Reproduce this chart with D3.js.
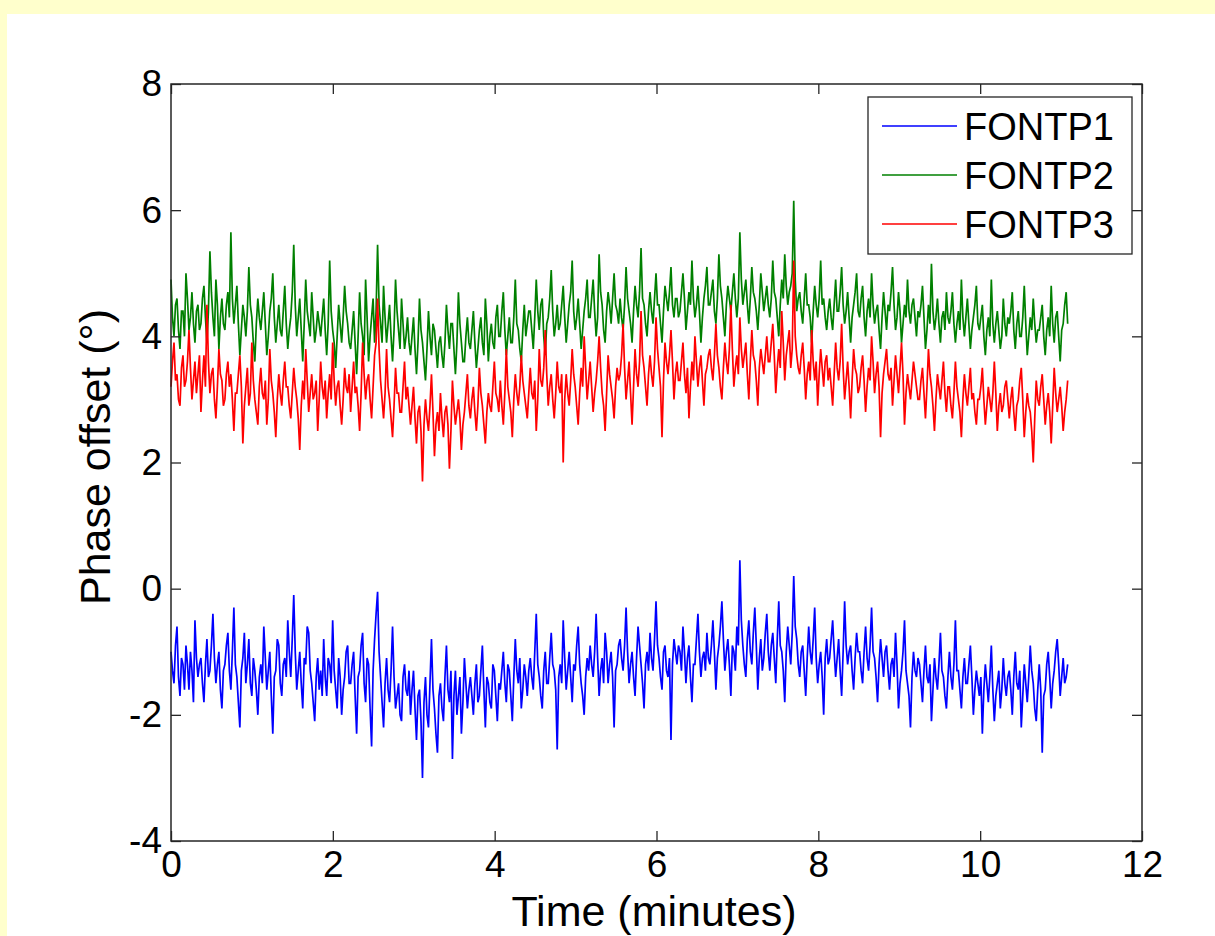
<!DOCTYPE html>
<html>
    <head>
        <meta charset="utf-8">
        <title></title>
        <script src="https://d3js.org/d3.v7.min.js"></script>
        <style>
            body { margin: 0; background-color: #ffffcc; }
            svg { display: block; }
            text { font-family: "Liberation Sans", Arial, sans-serif; fill: #000; }
        </style>
    </head>
    <body>
        <svg width="1215" height="936"></svg>
        <script>
            // phase offset data (degrees), one sample every sampleStep minutes
            var sampleStep = 0.0185;
            var fontp1 = [
                -1.0,-1.3,-1.5,-0.9,-0.6,-1.4,-1.7,-1.1,-1.2,-1.6,-0.9,-1.2,-1.6,-1.0,-1.3,-1.8,-0.5,-1.1,-1.4,-1.2,
                -1.1,-1.5,-1.8,-1.2,-0.8,-1.4,-1.3,-0.9,-0.4,-1.1,-1.5,-1.2,-1.0,-1.6,-1.9,-1.3,-1.2,-0.9,-0.7,-1.3,
                -1.6,-1.0,-0.3,-1.2,-1.4,-1.8,-2.2,-1.3,-1.1,-0.7,-1.5,-1.2,-0.8,-1.5,-1.7,-1.1,-1.3,-1.6,-2.0,-1.4,
                -1.2,-1.5,-0.6,-1.1,-1.6,-1.3,-1.0,-1.7,-2.3,-1.4,-1.3,-0.8,-0.9,-1.5,-1.7,-1.2,-1.1,-1.4,-0.5,-1.0,
                -1.4,-0.8,-0.1,-1.0,-1.6,-1.3,-1.0,-1.5,-1.9,-1.1,-1.2,-0.6,-0.7,-1.3,-1.5,-1.8,-2.1,-1.4,-1.1,-1.6,
                -1.3,-1.7,-0.8,-1.4,-1.7,-1.1,-1.2,-1.5,-0.5,-1.3,-1.6,-1.9,-1.1,-1.4,-2.0,-1.6,-1.4,-1.0,-0.9,-1.5,
                -1.5,-1.2,-1.0,-1.7,-2.3,-1.4,-1.3,-0.9,-0.7,-1.5,-1.8,-1.1,-1.2,-1.9,-2.5,-1.3,-0.8,-0.4,-0.05,-1.0,
                -1.4,-1.8,-2.2,-1.5,-1.1,-1.6,-1.8,-1.3,-0.6,-1.4,-1.9,-1.7,-1.5,-2.0,-2.1,-1.4,-1.2,-1.6,-1.7,-1.3,
                -2.0,-1.6,-1.3,-1.9,-2.4,-1.7,-1.6,-2.1,-3.0,-1.8,-1.4,-2.0,-2.2,-1.5,-0.8,-1.6,-1.9,-2.3,-2.6,-1.7,
                -1.5,-1.9,-2.1,-1.4,-0.9,-1.6,-1.8,-1.3,-2.7,-1.7,-1.3,-2.0,-1.7,-1.4,-2.3,-1.8,-1.1,-1.5,-1.9,-1.6,
                -1.4,-1.7,-2.0,-1.5,-1.2,-1.8,-1.7,-1.3,-0.9,-1.6,-2.2,-1.4,-1.5,-1.8,-1.9,-1.2,-1.3,-1.7,-2.1,-1.5,
                -1.6,-1.3,-1.0,-1.5,-1.8,-1.2,-1.3,-1.7,-2.1,-1.4,-0.8,-1.3,-1.5,-1.1,-1.9,-1.6,-1.2,-1.4,-1.7,-1.3,
                -1.1,-1.4,-1.6,-1.0,-0.4,-1.2,-1.4,-1.7,-1.9,-1.3,-1.0,-1.5,-1.5,-1.1,-0.7,-1.2,-1.3,-1.6,-2.55,-1.4,
                -1.2,-1.5,-0.5,-1.1,-1.6,-1.3,-1.0,-1.4,-1.8,-1.2,-1.3,-0.9,-0.6,-1.2,-1.5,-1.7,-2.0,-1.4,-1.1,-1.3,
                -0.9,-1.2,-1.4,-1.0,-0.4,-1.1,-1.7,-1.3,-1.1,-1.5,-0.7,-1.0,-1.5,-1.2,-1.0,-1.4,-2.2,-1.3,-1.2,-0.9,
                -0.8,-1.1,-1.3,-0.9,-0.3,-1.0,-1.5,-1.2,-1.0,-1.4,-1.7,-1.1,-0.6,-0.9,-1.2,-1.5,-1.9,-1.2,-1.0,-1.3,
                -0.7,-1.1,-1.3,-0.8,-0.2,-0.9,-1.1,-1.4,-1.6,-1.0,-0.9,-1.3,-1.4,-1.1,-2.4,-1.2,-0.8,-1.0,-1.2,-0.9,
                -1.0,-1.3,-0.6,-1.0,-1.5,-1.1,-0.9,-1.4,-1.8,-1.2,-1.2,-0.8,-0.4,-1.0,-1.4,-1.1,-1.0,-1.3,-0.7,-1.1,
                -1.2,-0.9,-0.5,-1.0,-1.6,-1.1,-0.9,-0.6,-0.2,-0.8,-1.3,-1.0,-0.8,-1.2,-1.7,-0.9,-1.0,-1.3,-0.6,-0.9,
                0.45,-0.5,-0.9,-1.2,-1.4,-0.8,-0.5,-1.0,-1.2,-0.7,-0.3,-0.9,-1.6,-1.1,-0.8,-1.3,-1.1,-0.7,-0.4,-1.0,
                -1.3,-0.9,-0.7,-1.1,-1.5,-0.8,-0.2,-0.9,-1.0,-1.3,-1.8,-1.0,-0.6,-0.9,-1.2,-0.7,0.2,-0.6,-0.8,-1.2,
                -1.4,-1.0,-0.9,-1.3,-1.7,-1.1,-0.6,-1.0,-1.2,-0.8,-0.3,-1.1,-1.5,-1.2,-1.0,-1.4,-2.0,-1.1,-0.8,-1.2,
                -1.1,-0.8,-0.5,-1.0,-1.4,-1.1,-0.8,-1.3,-1.7,-1.0,-0.2,-0.9,-1.2,-1.0,-0.9,-1.3,-1.6,-1.1,-0.7,-1.0,
                -1.0,-1.3,-1.5,-1.0,-0.6,-1.1,-1.3,-0.9,-0.3,-1.0,-1.1,-1.4,-1.8,-1.2,-0.8,-1.1,-1.4,-1.0,-0.9,-1.3,
                -1.6,-1.2,-1.1,-1.4,-0.7,-1.2,-1.9,-1.5,-1.3,-1.0,-0.5,-1.3,-1.5,-1.7,-2.2,-1.4,-1.0,-1.3,-1.4,-1.1,
                -1.2,-1.5,-1.8,-1.3,-0.9,-1.4,-1.5,-1.2,-2.1,-1.6,-1.1,-1.4,-1.6,-1.2,-0.7,-1.3,-1.4,-1.7,-1.9,-1.4,
                -1.0,-1.4,-1.6,-1.2,-0.5,-1.3,-1.3,-1.6,-1.9,-1.4,-1.1,-1.5,-1.5,-1.2,-0.9,-1.4,-2.0,-1.6,-1.3,-1.5,
                -1.7,-1.4,-2.3,-1.6,-1.2,-1.5,-1.8,-1.4,-0.9,-1.6,-2.1,-1.7,-1.5,-1.3,-1.9,-1.6,-1.1,-1.5,-1.7,-1.4,
                -1.3,-1.6,-2.0,-1.4,-1.0,-1.5,-1.6,-1.3,-2.2,-1.7,-1.2,-1.5,-1.8,-1.4,-0.9,-1.3,-1.5,-1.9,-2.1,-1.6,
                -1.2,-1.6,-2.6,-1.7,-1.6,-1.2,-1.0,-1.4,-1.9,-1.5,-1.3,-1.0,-0.8,-1.2,-1.7,-1.4,-1.1,-1.5,-1.4,-1.2
            ];
            var fontp2 = [
                4.9,4.3,4.0,4.5,4.6,4.1,3.8,4.4,4.4,4.0,5.0,4.6,4.1,4.3,4.7,4.2,3.9,4.4,4.5,4.1,
                4.2,4.6,4.8,4.3,3.9,4.4,5.35,4.7,4.3,4.0,4.9,4.5,3.8,4.3,4.6,4.2,4.1,4.5,4.7,4.3,
                5.65,4.6,4.2,4.5,4.8,4.2,3.7,4.1,4.5,4.3,4.0,4.4,5.1,4.5,4.3,3.9,3.6,4.2,4.6,4.3,
                4.1,4.4,4.7,4.2,3.7,4.0,4.4,4.6,5.0,4.3,3.9,4.2,4.5,4.1,4.0,4.4,4.8,4.2,3.8,4.1,
                4.3,4.7,5.45,4.5,4.0,4.3,4.6,4.1,3.6,4.2,4.9,4.4,4.2,4.0,4.7,4.3,3.9,4.1,4.4,4.2,
                4.0,4.3,4.6,4.1,3.7,4.2,5.2,4.4,4.1,3.9,3.5,4.0,4.5,4.2,3.9,4.3,4.8,4.4,4.2,3.9,
                3.8,4.1,4.4,3.9,3.4,4.0,4.7,4.2,4.0,3.7,4.9,4.3,3.6,4.0,4.3,4.6,3.9,4.4,5.45,4.5,
                4.2,3.9,4.8,4.3,3.9,4.2,4.5,4.0,3.6,4.1,4.9,4.4,4.1,3.8,4.6,4.2,3.8,4.0,4.3,3.9,
                3.7,4.0,4.3,3.8,3.4,3.9,4.6,4.1,3.9,3.6,3.3,3.8,4.4,4.0,3.7,4.2,4.1,3.8,3.5,3.9,
                4.0,3.7,3.5,3.9,4.5,4.1,3.8,4.2,4.2,3.8,3.4,3.9,4.7,4.2,3.9,3.6,3.6,4.0,4.3,3.9,
                3.8,4.1,4.4,3.9,3.5,3.8,4.1,4.3,3.9,3.7,4.6,4.2,3.6,4.0,4.2,3.9,3.8,4.3,4.5,4.0,
                4.0,4.4,4.7,4.1,3.7,4.0,4.3,3.9,3.9,4.3,4.9,4.2,4.1,3.8,3.6,4.1,4.5,4.0,4.2,4.4,
                4.4,4.1,3.8,4.3,4.9,4.4,4.1,4.5,4.6,4.0,3.7,4.2,4.3,4.6,5.05,4.4,4.0,4.2,4.5,4.1,
                4.2,4.5,4.8,4.3,3.9,4.2,4.5,4.7,5.2,4.4,4.1,4.3,4.6,4.2,3.8,4.1,4.4,4.6,4.9,4.3,
                4.3,4.6,4.9,4.4,4.0,4.3,5.3,4.7,4.5,4.1,3.9,4.4,4.7,4.5,4.2,4.6,5.0,4.5,4.4,4.2,
                4.6,4.3,4.1,4.5,5.1,4.6,4.4,4.2,3.9,4.4,4.8,4.5,4.3,4.7,5.4,4.6,4.5,4.2,4.0,4.4,
                4.7,4.4,4.2,4.6,5.0,4.5,4.5,4.2,3.9,4.4,4.8,4.6,4.4,4.7,5.1,4.5,4.3,4.6,4.6,4.3,
                4.4,4.7,5.0,4.6,4.1,4.4,4.7,4.5,5.2,4.6,4.3,4.5,4.8,4.4,3.9,4.3,4.6,4.8,5.1,4.5,
                4.5,4.7,4.9,4.4,4.2,4.6,5.3,4.8,4.6,4.3,4.0,4.5,4.8,4.6,4.4,4.7,5.0,4.6,4.3,4.6,
                5.65,4.9,4.5,4.7,4.9,4.5,4.2,4.6,5.1,4.7,4.6,4.4,4.1,4.5,5.0,4.7,4.4,4.6,4.8,4.5,
                4.3,4.6,5.2,4.7,4.6,4.3,4.0,4.5,4.9,4.6,5.3,4.8,4.5,4.7,4.8,5.0,6.15,4.9,4.4,4.6,
                4.7,4.4,4.2,4.6,5.0,4.5,4.5,4.3,3.9,4.4,4.8,4.5,4.3,4.6,5.2,4.5,4.6,4.3,4.1,4.4,
                4.6,4.3,4.1,4.5,4.9,4.4,4.4,4.7,5.1,4.5,4.2,4.4,4.7,4.3,3.9,4.3,4.5,4.7,5.0,4.4,
                4.3,4.6,4.8,4.3,4.0,4.4,4.6,4.3,5.0,4.5,4.2,4.4,4.5,4.1,3.8,4.3,4.7,4.4,4.1,4.5,
                4.4,4.7,5.1,4.5,4.1,4.3,4.7,4.4,3.9,4.2,4.5,4.3,4.9,4.4,4.2,4.5,4.6,4.3,4.0,4.4,
                4.3,4.5,4.8,4.3,3.8,4.1,4.5,4.2,5.15,4.4,4.1,4.3,4.6,4.2,3.9,4.3,4.4,4.1,4.7,4.3,
                4.2,4.4,4.7,4.2,3.9,4.2,4.4,4.1,4.9,4.3,4.0,4.3,4.6,4.2,3.8,4.1,4.3,4.5,4.8,4.2,
                4.1,4.3,4.5,4.0,3.7,4.1,4.3,4.0,4.9,4.2,3.9,4.2,4.4,4.1,3.8,4.0,4.6,4.2,4.0,4.3,
                4.2,4.4,4.7,4.1,3.8,4.2,4.4,4.0,4.0,4.3,4.8,4.2,3.7,4.0,4.3,4.1,4.6,4.2,3.9,4.1,
                4.1,4.3,4.5,4.0,3.7,4.1,4.3,4.0,4.8,4.2,3.9,4.3,4.4,4.0,3.6,4.1,4.2,4.5,4.7,4.2
            ];
            var fontp3 = [
                3.2,3.6,3.9,3.3,3.4,3.0,2.9,3.5,3.7,3.2,3.3,3.6,4.1,3.5,3.0,3.3,3.6,3.1,3.4,3.7,
                2.8,3.3,3.7,3.2,4.5,3.6,3.1,3.4,3.5,3.0,2.7,3.2,3.8,3.4,3.3,2.9,3.0,3.4,3.6,3.2,
                3.4,3.0,2.5,3.1,3.1,3.4,3.7,3.2,2.3,2.9,3.2,3.5,2.9,3.1,3.9,3.3,3.0,2.8,2.6,3.2,
                3.5,3.1,3.0,3.3,2.6,3.0,3.8,3.3,3.1,2.8,2.4,3.0,3.4,3.1,2.9,3.3,3.6,3.2,3.2,2.9,
                2.7,3.1,3.5,3.2,3.0,2.7,2.2,2.9,3.3,3.0,3.8,3.3,2.8,3.1,3.4,3.0,3.1,3.3,2.5,3.0,
                3.6,3.2,3.0,3.3,2.7,3.1,3.4,3.0,3.9,3.3,2.9,3.2,3.3,2.9,2.6,3.0,3.5,3.2,3.1,3.4,
                2.8,3.2,3.6,3.1,3.2,2.9,2.5,3.1,3.9,3.4,3.0,3.3,3.4,3.0,2.7,3.2,3.7,3.9,4.6,3.8,
                3.3,3.0,2.7,3.1,3.8,3.2,3.0,2.7,2.4,2.9,3.5,3.1,3.1,2.8,2.8,3.2,3.6,3.0,3.2,2.9,
                2.6,2.9,3.2,2.7,2.3,2.8,2.9,2.5,1.7,2.6,3.0,2.7,2.5,2.9,3.4,2.8,2.1,2.6,2.8,2.5,
                3.1,2.7,2.4,2.8,2.9,2.6,1.9,2.5,3.3,2.9,2.6,2.8,3.0,2.7,2.2,2.6,2.8,3.1,3.4,2.9,
                2.7,3.0,3.2,2.8,2.5,2.9,3.5,3.1,2.9,2.6,2.3,2.8,3.1,2.9,2.8,3.2,3.6,3.1,3.0,2.8,
                3.3,2.9,2.6,3.1,3.8,3.2,3.0,2.8,2.4,3.0,3.4,3.1,2.9,3.2,3.7,3.3,3.1,2.9,2.7,3.1,
                3.5,3.1,3.0,3.3,2.5,3.0,3.8,3.3,3.2,3.5,4.1,3.4,2.9,3.2,3.4,3.0,2.7,3.1,3.6,3.2,
                3.1,3.4,2.0,3.0,3.4,3.1,2.9,3.3,3.8,3.4,3.2,2.9,2.6,3.1,3.5,3.2,4.0,3.5,3.0,3.3,
                3.6,3.2,2.8,3.1,3.3,3.6,4.0,3.5,3.1,2.9,2.5,3.1,3.7,3.4,3.2,3.0,2.7,3.2,3.5,3.3,
                3.4,3.7,4.2,3.5,3.0,3.3,3.6,3.1,2.6,3.2,3.8,3.4,3.2,3.6,4.4,3.7,3.5,3.2,2.9,3.4,
                3.7,3.4,3.2,3.6,4.3,3.8,3.5,3.2,2.4,3.3,3.9,3.6,3.4,3.7,4.1,3.6,3.0,3.4,3.6,3.3,
                3.3,3.6,3.9,3.4,3.1,3.5,2.7,3.2,3.6,3.3,4.0,3.6,3.2,3.5,3.7,3.3,2.9,3.4,3.5,3.7,
                3.8,3.5,3.3,3.7,4.2,3.7,3.5,3.2,3.0,3.5,3.9,3.6,3.4,3.8,4.5,3.8,3.2,3.5,3.7,3.4,
                4.3,3.8,3.5,3.7,3.9,3.4,3.0,3.6,4.1,3.7,3.6,3.3,2.9,3.5,3.8,3.6,3.4,3.7,4.0,3.6,
                3.6,3.9,4.2,3.7,3.1,3.5,3.8,3.5,4.4,3.9,3.3,3.7,3.9,4.1,3.5,3.8,5.2,4.0,3.7,3.5,
                3.4,3.7,3.9,3.5,3.0,3.4,3.6,3.3,4.1,3.6,3.3,3.6,2.9,3.4,3.8,3.5,3.2,3.6,3.7,3.3,
                3.5,3.2,2.9,3.4,3.9,3.5,3.3,3.6,4.2,3.5,3.0,3.3,3.6,3.2,2.7,3.3,3.8,3.5,3.4,3.1,
                3.2,3.5,3.7,3.3,2.8,3.2,3.5,3.3,4.0,3.6,3.1,3.4,3.6,3.2,2.4,3.1,3.4,3.6,3.8,3.4,
                3.3,3.5,2.9,3.3,3.7,3.4,3.1,3.5,3.9,3.4,2.6,3.1,3.4,3.2,3.0,3.3,3.6,3.4,3.2,3.0,
                3.0,3.3,3.5,3.1,2.7,3.2,3.8,3.4,3.2,2.9,2.5,3.0,3.4,3.2,3.0,3.3,3.6,3.1,2.8,3.2,
                3.2,2.9,2.7,3.1,3.6,3.2,3.0,2.8,2.4,3.0,3.4,3.1,2.9,3.2,3.5,3.0,3.1,2.8,2.6,3.0,
                3.0,3.2,3.5,3.0,2.6,2.9,3.2,3.0,2.8,3.1,3.6,3.1,2.5,2.9,3.1,2.8,2.9,3.2,3.3,3.0,
                2.7,3.0,3.2,2.8,2.5,2.9,3.0,3.3,3.5,3.0,2.4,2.8,3.1,2.9,2.8,2.5,2.0,2.7,3.3,3.0,
                2.9,3.2,3.4,3.0,2.6,2.9,3.1,2.8,2.3,2.9,3.5,3.1,2.8,3.0,3.2,2.9,2.5,2.8,3.0,3.3
            ];
            var seriesNames = ["FONTP1", "FONTP2", "FONTP3"];
            var seriesColors = ["#0000ff", "#008000", "#ff0000"];
            var xTicks = [0, 2, 4, 6, 8, 10, 12];
            var yTicks = [-4, -2, 0, 2, 4, 6, 8];

            var svg = d3.select("svg");

            // white panel on yellow page
            svg.append("rect")
                .attr("x", 7).attr("y", 14)
                .attr("width", 1215).attr("height", 936)
                .attr("fill", "#ffffff");

            var plotLeft = 171, plotTop = 84, plotRight = 1142, plotBottom = 841;
            var x = d3.scaleLinear().domain([0, 12]).range([plotLeft, plotRight]);
            var y = d3.scaleLinear().domain([-4, 8]).range([plotBottom, plotTop]);

            var allSeries = [fontp1, fontp2, fontp3];
            var line = d3.line()
                .x(function(d, i) { return x(i * sampleStep); })
                .y(function(d) { return y(d); });

            svg.append("g")
                .selectAll("path")
                .data(allSeries)
                .enter().append("path")
                .attr("d", line)
                .attr("fill", "none")
                .attr("stroke", function(d, i) { return seriesColors[i]; })
                .attr("stroke-width", 1.7);

            // axes box, MATLAB style ticks on all four sides
            var axisColor = "#262626";
            var tickLen = 10;
            var plainNumber = function(d) { return String(d); }; // hyphen minus like the original
            function styleAxis(g) {
                g.select(".domain").remove();
                g.selectAll(".tick line").attr("stroke", axisColor).attr("stroke-width", 1.3);
                g.selectAll(".tick text").attr("font-size", 37).attr("font-family", "Liberation Sans, Arial, sans-serif").attr("fill", "#000");
            }
            svg.append("g")
                .attr("transform", "translate(0," + plotBottom + ")")
                .call(d3.axisBottom(x).tickValues(xTicks).tickSize(-tickLen).tickPadding(10).tickFormat(plainNumber))
                .call(styleAxis);
            svg.append("g")
                .attr("transform", "translate(0," + plotTop + ")")
                .call(d3.axisTop(x).tickValues(xTicks).tickSize(-tickLen).tickFormat(""))
                .call(styleAxis);
            svg.append("g")
                .attr("transform", "translate(" + plotLeft + ",0)")
                .call(d3.axisLeft(y).tickValues(yTicks).tickSize(-tickLen).tickPadding(9).tickFormat(plainNumber))
                .call(styleAxis);
            svg.append("g")
                .attr("transform", "translate(" + plotRight + ",0)")
                .call(d3.axisRight(y).tickValues(yTicks).tickSize(-tickLen).tickFormat(""))
                .call(styleAxis);

            svg.append("rect")
                .attr("x", plotLeft).attr("y", plotTop)
                .attr("width", plotRight - plotLeft).attr("height", plotBottom - plotTop)
                .attr("fill", "none")
                .attr("stroke", axisColor)
                .attr("stroke-width", 1.5);

            // axis titles
            svg.append("text")
                .attr("x", 654).attr("y", 926)
                .attr("text-anchor", "middle")
                .attr("font-size", 43)
                .text("Time (minutes)");
            svg.append("text")
                .attr("transform", "translate(110,457) rotate(-90)")
                .attr("text-anchor", "middle")
                .attr("font-size", 43)
                .text("Phase offset (°)");

            // legend
            var legend = svg.append("g");
            legend.append("rect")
                .attr("x", 868).attr("y", 97)
                .attr("width", 264).attr("height", 157)
                .attr("fill", "#ffffff")
                .attr("stroke", axisColor)
                .attr("stroke-width", 1.3);
            var items = legend.selectAll("g.item")
                .data(seriesNames)
                .enter().append("g")
                .attr("transform", function(d, i) { return "translate(0," + (126 + i * 49) + ")"; });
            items.append("line")
                .attr("x1", 882).attr("x2", 957)
                .attr("stroke", function(d, i) { return seriesColors[i]; })
                .attr("stroke-width", 1.3);
            items.append("text")
                .attr("x", 964).attr("y", 14)
                .attr("font-size", 38)
                .text(function(d) { return d; });
        </script>
    </body>
</html>
